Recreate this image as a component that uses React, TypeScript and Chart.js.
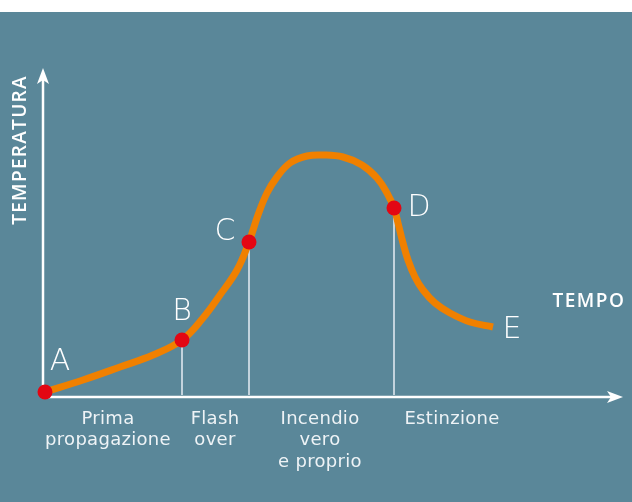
import React, { useEffect, useRef } from "react";
import { Chart, registerables } from "chart.js";

Chart.register(...registerables);

// Curve: time (x) vs temperature (y), in chart units
const curveX = [2, 40, 77, 110, 139, 160, 177, 194, 206, 215, 224, 234, 247, 264, 280, 300, 319, 334, 344, 351, 355, 360, 365, 372, 380, 392, 407, 427, 450];
const curveY = [5, 17, 30, 42, 57, 79, 102, 127, 155, 182, 204, 220, 234, 241, 242, 240, 232, 219, 204, 189, 174, 154, 137, 120, 107, 94, 84, 75, 70];

// Key points A–D (red dots)
const pointNames = ["A", "B", "C", "D"];
const pointX = [2, 139, 206, 351];
const pointY = [5, 57, 155, 189];

// Letter E at curve end
const endName = "E";
const endX = 450;
const endY = 70;

// Phase labels along time axis
const phaseLabels = [["Prima", "propagazione"], ["Flash", "over"], ["Incendio", "vero", "e proprio"], ["Estinzione"]];
const phaseX = [65, 172, 277, 409];

const xTitle = "TEMPO";
const yTitle = "TEMPERATURA";

const X_MAX = 580;
const Y_MAX = 329;

const BG = "#5a8799";
const ORANGE = "#f08000";
const RED = "#e30613";
const VLINE = "#c3d3dd";
const FONT = "'DejaVu Sans', sans-serif";
const TITLE_FONT = "'Open Sans', 'DejaVu Sans', sans-serif";

export default function App() {
  const ref = useRef<HTMLCanvasElement | null>(null);

  useEffect(() => {
    if (!ref.current) return;

    const decor = {
      id: "decor",
      beforeDraw(chart: any) {
        const ctx = chart.ctx;
        ctx.save();
        ctx.fillStyle = "#ffffff";
        ctx.fillRect(0, 0, chart.width, chart.height);
        ctx.fillStyle = BG;
        ctx.fillRect(0, 12, chart.width, chart.height - 12);
        ctx.restore();
      },
      beforeDatasetsDraw(chart: any) {
        const ctx = chart.ctx;
        const xs = chart.scales.x;
        const ys = chart.scales.y;
        const x0 = xs.getPixelForValue(0);
        const y0 = ys.getPixelForValue(0);
        const xEnd = xs.getPixelForValue(X_MAX);
        const yEnd = ys.getPixelForValue(Y_MAX);
        ctx.save();
        ctx.strokeStyle = "#ffffff";
        ctx.fillStyle = "#ffffff";
        ctx.lineWidth = 2.5;
        // y axis
        ctx.beginPath();
        ctx.moveTo(x0, y0 + 1);
        ctx.lineTo(x0, yEnd + 8);
        ctx.stroke();
        ctx.beginPath();
        ctx.moveTo(x0, yEnd);
        ctx.lineTo(x0 - 6, yEnd + 16);
        ctx.lineTo(x0, yEnd + 12);
        ctx.lineTo(x0 + 6, yEnd + 16);
        ctx.closePath();
        ctx.fill();
        // x axis
        ctx.beginPath();
        ctx.moveTo(x0 - 1, y0);
        ctx.lineTo(xEnd - 8, y0);
        ctx.stroke();
        ctx.beginPath();
        ctx.moveTo(xEnd, y0);
        ctx.lineTo(xEnd - 16, y0 - 6);
        ctx.lineTo(xEnd - 12, y0);
        ctx.lineTo(xEnd - 16, y0 + 6);
        ctx.closePath();
        ctx.fill();

        // axis titles
        ctx.textAlign = "center";
        ctx.textBaseline = "middle";
        ctx.font = `600 19px ${TITLE_FONT}`;
        (ctx as any).letterSpacing = "1.5px";
        ctx.fillText(xTitle, 589, 302);
        (ctx as any).letterSpacing = "1.3px";
        ctx.save();
        ctx.translate(21, 150);
        ctx.rotate(-Math.PI / 2);
        ctx.fillText(yTitle, 0, 0);
        ctx.restore();
        (ctx as any).letterSpacing = "0.3px";

        // phase labels
        ctx.font = `18px ${FONT}`;
        ctx.fillStyle = "#eef3f6";
        ctx.textBaseline = "middle";
        phaseLabels.forEach((lines, i) => {
          const px = xs.getPixelForValue(phaseX[i]);
          lines.forEach((t, j) => {
            ctx.fillText(t, px, y0 + 22 + j * 21.5);
          });
        });
        (ctx as any).letterSpacing = "0px";
        ctx.restore();
      },
      afterDatasetsDraw(chart: any) {
        const ctx = chart.ctx;
        const xs = chart.scales.x;
        const ys = chart.scales.y;
        ctx.save();
        ctx.fillStyle = "#ffffff";
        ctx.font = `200 30px ${FONT}`;
        ctx.textAlign = "center";
        ctx.textBaseline = "middle";
        const offsets = [
          [15, -30],
          [0, -28],
          [-24, -10],
          [25, 0],
        ];
        pointNames.forEach((n, i) => {
          ctx.fillText(n, xs.getPixelForValue(pointX[i]) + offsets[i][0], ys.getPixelForValue(pointY[i]) + offsets[i][1]);
        });
        ctx.fillText(endName, xs.getPixelForValue(endX) + 19, ys.getPixelForValue(endY) + 3);
        ctx.restore();
      },
    };

    const vlineSets = [1, 2, 3].map((i) => ({
      type: "line" as const,
      data: [
        { x: pointX[i], y: 2 },
        { x: pointX[i], y: pointY[i] },
      ],
      borderColor: VLINE,
      borderWidth: 2,
      pointRadius: 0,
      tension: 0,
      order: 3,
    }));

    const chart = new Chart(ref.current, {
      type: "line",
      data: {
        datasets: [
          {
            data: pointX.map((x, i) => ({ x, y: pointY[i] })),
            showLine: false,
            pointRadius: 7.5,
            pointBackgroundColor: RED,
            pointBorderWidth: 0,
            borderColor: RED,
            clip: false,
            order: 0,
          },
          {
            data: curveX.map((x, i) => ({ x, y: curveY[i] })),
            borderColor: ORANGE,
            borderWidth: 7,
            borderCapStyle: "butt",
            tension: 0.4,
            pointRadius: 0,
            clip: false,
            order: 1,
          },
          ...vlineSets,
        ] as any,
      },
      options: {
        animation: false,
        responsive: false,
        events: [],
        layout: { padding: { left: 43, right: 9, top: 68, bottom: 105 } },
        scales: {
          x: { type: "linear", min: 0, max: X_MAX, display: false },
          y: { type: "linear", min: 0, max: Y_MAX, display: false },
        },
        plugins: {
          legend: { display: false },
          tooltip: { enabled: false },
        },
      },
      plugins: [decor],
    });
    return () => chart.destroy();
  }, []);

  return (
    <div style={{ position: "fixed", left: 0, top: 0, width: 632, height: 502 }}>
      <canvas ref={ref} width={632} height={502} style={{ display: "block" }} />
    </div>
  );
}
